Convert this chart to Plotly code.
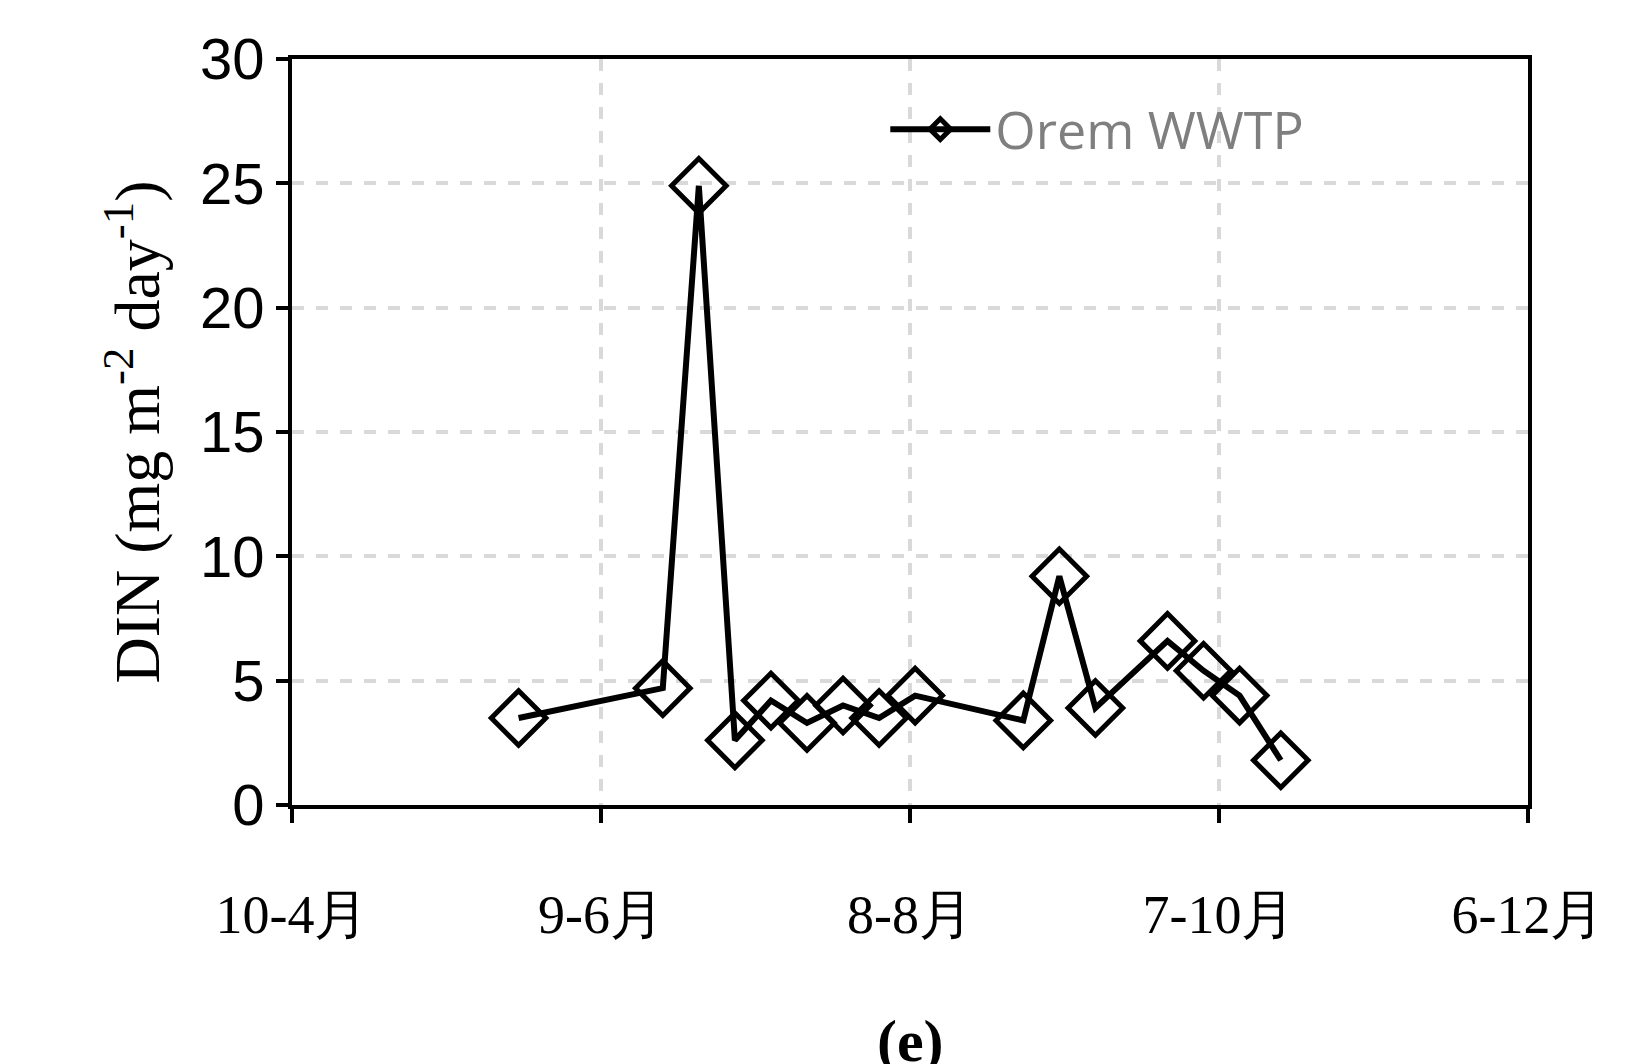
import plotly.graph_objects as go

dates = ["2009-05-24","2009-06-21","2009-06-28","2009-07-05","2009-07-12","2009-07-19",
         "2009-07-26","2009-08-02","2009-08-09","2009-08-30","2009-09-06","2009-09-13",
         "2009-09-27","2009-10-04","2009-10-11","2009-10-19"]
din = [3.5, 4.7, 24.9, 2.6, 4.2, 3.3, 4.0, 3.5, 4.4, 3.4, 9.2, 3.9, 6.6, 5.4, 4.4, 1.8]
tick_vals = ["2009-04-10","2009-06-09","2009-08-08","2009-10-07","2009-12-06"]
tick_text = ["10-4月","9-6月","8-8月","7-10月","6-12月"]

fig = go.Figure(go.Scatter(
    x=dates, y=din, mode="lines+markers", name="Orem WWTP",
    line=dict(color="black", width=6),
    marker=dict(symbol="diamond-open", size=42, color="black", line=dict(width=5))))

fig.update_layout(
    width=1625, height=1064, plot_bgcolor="white", paper_bgcolor="white",
    margin=dict(l=284, r=105, t=51, b=267), showlegend=True,
    font=dict(family="Liberation Serif", color="black"),
    legend=dict(x=0.48, y=0.96, xanchor="left", yanchor="top", itemwidth=100,
                font=dict(family="Open Sans", size=52, color="#7f7f7f"),
                bgcolor="rgba(0,0,0,0)"),
    annotations=[dict(text="<b>(e)</b>", x=0.5, y=-0.27, xref="paper", yref="paper",
                      showarrow=False, yanchor="top", font=dict(size=60, family="Liberation Serif"))])
fig.update_xaxes(type="date", range=["2009-04-10","2009-12-06"], tickvals=tick_vals, ticktext=tick_text,
                 showgrid=True, gridcolor="#d9d9d9", griddash="dash", gridwidth=4,
                 showline=True, linecolor="black", linewidth=4, mirror=True,
                 ticks="outside", ticklen=14, tickwidth=4, tickcolor="black",
                 tickfont=dict(size=54), ticklabelstandoff=45)
fig.update_yaxes(range=[0, 30], dtick=5, showgrid=True, gridcolor="#d9d9d9", griddash="dash", gridwidth=4,
                 showline=True, linecolor="black", linewidth=4, mirror=True,
                 ticks="outside", ticklen=12, tickwidth=4, tickcolor="black",
                 tickfont=dict(size=58, family="Liberation Sans"),
                 title=dict(text="DIN (mg m<sup>-2</sup> day<sup>-1</sup>)", font=dict(size=64), standoff=20))
fig.write_html("out.html")
